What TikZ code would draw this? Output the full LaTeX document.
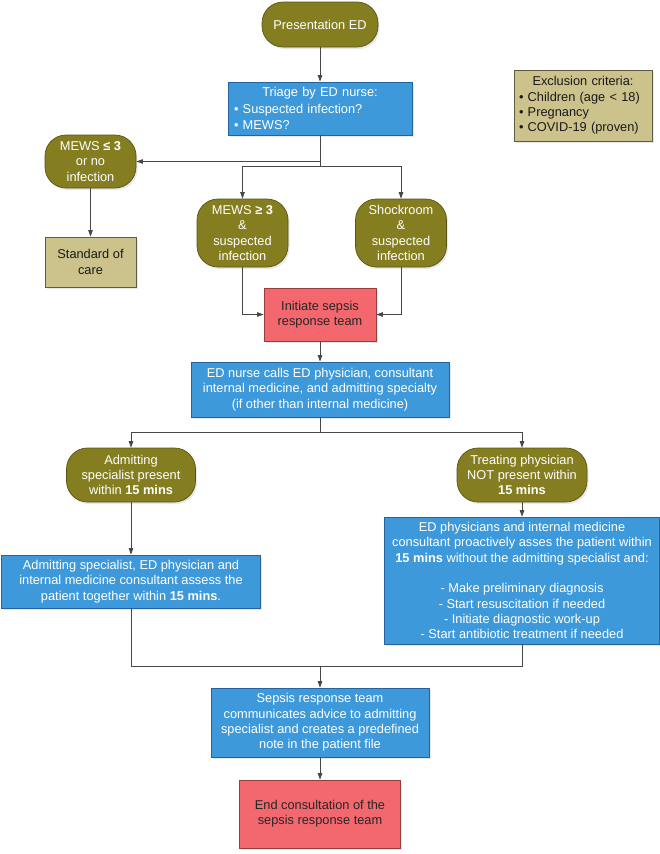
\documentclass[tikz,border=0pt]{standalone}
\usepackage{fontspec}
\setmainfont{Liberation Sans}
\usetikzlibrary{arrows.meta,shadows}

\definecolor{olivebox}{RGB}{133,126,33}
\definecolor{oliveline}{RGB}{88,83,18}
\definecolor{bluebox}{RGB}{62,153,219}
\definecolor{blueline}{RGB}{38,98,158}
\definecolor{redbox}{RGB}{243,104,110}
\definecolor{redline}{RGB}{150,62,62}
\definecolor{tanbox}{RGB}{204,195,140}
\definecolor{tanline}{RGB}{96,92,66}

\tikzset{
    box/.style={draw, line width=0.7pt, inner sep=0pt, align=center,
        font=\fontsize{12.8}{15.3}\selectfont,
        drop shadow={shadow xshift=1.5pt, shadow yshift=-2pt, opacity=0.18}},
    pill/.style={box, rounded corners=21pt, fill=olivebox, draw=oliveline, text=white},
    action/.style={box, fill=bluebox, draw=blueline, text=white},
    team/.style={box, fill=redbox, draw=redline, text=black!85},
    note/.style={box, fill=tanbox, draw=tanline, text=black!90},
    flow/.style={draw=black!72, line width=0.7pt},
    arr/.style={flow, -{Triangle[length=6.5pt,width=4.5pt]}}
}

\begin{document}
\begin{tikzpicture}[x=1pt, y=-1pt]
    \useasboundingbox (0,0) rectangle (660,854);

    % top part
    \node[pill, minimum width=116pt, minimum height=45pt] (pres) at (320,24.5) {Presentation ED};
    \node[action, minimum width=184pt, minimum height=53pt, text width=172pt, align=left] (triage) at (320,108.5)
        {\makebox[\linewidth]{Triage by ED nurse:}\\[1pt]\textbullet{} Suspected infection?\\[1pt]\textbullet{} MEWS?};
    \node[note, minimum width=138pt, minimum height=71pt, text width=128pt, align=left] (excl) at (583,105.5)
        {\makebox[\linewidth]{Exclusion criteria:}\\\textbullet{} Children (age < 18)\\\textbullet{} Pregnancy\\\textbullet{} COVID-19 (proven)};

    \node[pill, minimum width=91pt, minimum height=53pt] (mewslow) at (90.5,161.5) {MEWS \textbf{≤ 3}\\or no\\infection};
    \node[note, minimum width=91pt, minimum height=50pt] (std) at (90.5,262) {Standard of\\care};
    \node[pill, minimum width=91pt, minimum height=68pt] (mewshigh) at (242.5,233) {MEWS \textbf{≥ 3}\\\&\\suspected\\infection};
    \node[pill, minimum width=91pt, minimum height=68pt] (shock) at (401,233) {Shockroom\\\&\\suspected\\infection};

    \node[team, minimum width=112pt, minimum height=53pt] (init) at (320,314.5) {Initiate sepsis\\response team};
    \node[action, minimum width=258pt, minimum height=55pt] (nurse) at (320,389.5)
        {ED nurse calls ED physician, consultant\\internal medicine, and admitting specialty\\(if other than internal medicine)};

    % two branches
    \node[pill, minimum width=129pt, minimum height=54pt] (admit) at (131,475) {Admitting\\specialist present\\within \textbf{15 mins}};
    \node[pill, minimum width=130pt, minimum height=54pt] (treat) at (522,475) {Treating physician\\NOT present within\\\textbf{15 mins}};
    \node[action, minimum width=259pt, minimum height=53pt] (joint) at (131,581.5)
        {Admitting specialist, ED physician and\\internal medicine consultant assess the\\patient together within \textbf{15 mins}.};
    \node[action, minimum width=275pt, minimum height=127pt] (edphys) at (522,580.5)
        {ED physicians and internal medicine\\consultant proactively asses the patient within\\\textbf{15 mins} without the admitting specialist and:\\[15.3pt]
         - Make preliminary diagnosis\\- Start resuscitation if needed\\- Initiate diagnostic work-up\\- Start antibiotic treatment if needed};

    % bottom part
    \node[action, minimum width=218pt, minimum height=69pt] (comm) at (320,722.5)
        {Sepsis response team\\communicates advice to admitting\\specialist and creates a predefined\\note in the patient file};
    \node[team, minimum width=161pt, minimum height=68pt] (endc) at (320,814) {End consultation of the\\sepsis response team};

    \coordinate (split1) at (320,166);
    \coordinate (split2) at (320,432);
    \coordinate (merge) at (320,666);

    \draw[arr] (pres) -- (triage);
    \draw[flow] (triage.south) -- (split1);
    \draw[arr] (triage.south |- mewslow.east) -- (mewslow.east);
    \draw[arr] (split1) -| (mewshigh.north);
    \draw[arr] (split1) -| (shock.north);
    \draw[arr] (mewslow) -- (std);
    \draw[arr] (mewshigh.south) |- (init.west);
    \draw[arr] (shock.south) |- (init.east);
    \draw[arr] (init) -- (nurse);
    \draw[flow] (nurse.south) -- (split2);
    \draw[arr] (split2) -| (admit.north);
    \draw[arr] (split2) -| (treat.north);
    \draw[arr] (admit) -- (joint);
    \draw[arr] (treat) -- (edphys);
    \draw[flow] (joint.south) |- (merge);
    \draw[flow] (edphys.south) |- (merge);
    \draw[arr] (merge) -- (comm);
    \draw[arr] (comm) -- (endc);
\end{tikzpicture}
\end{document}
